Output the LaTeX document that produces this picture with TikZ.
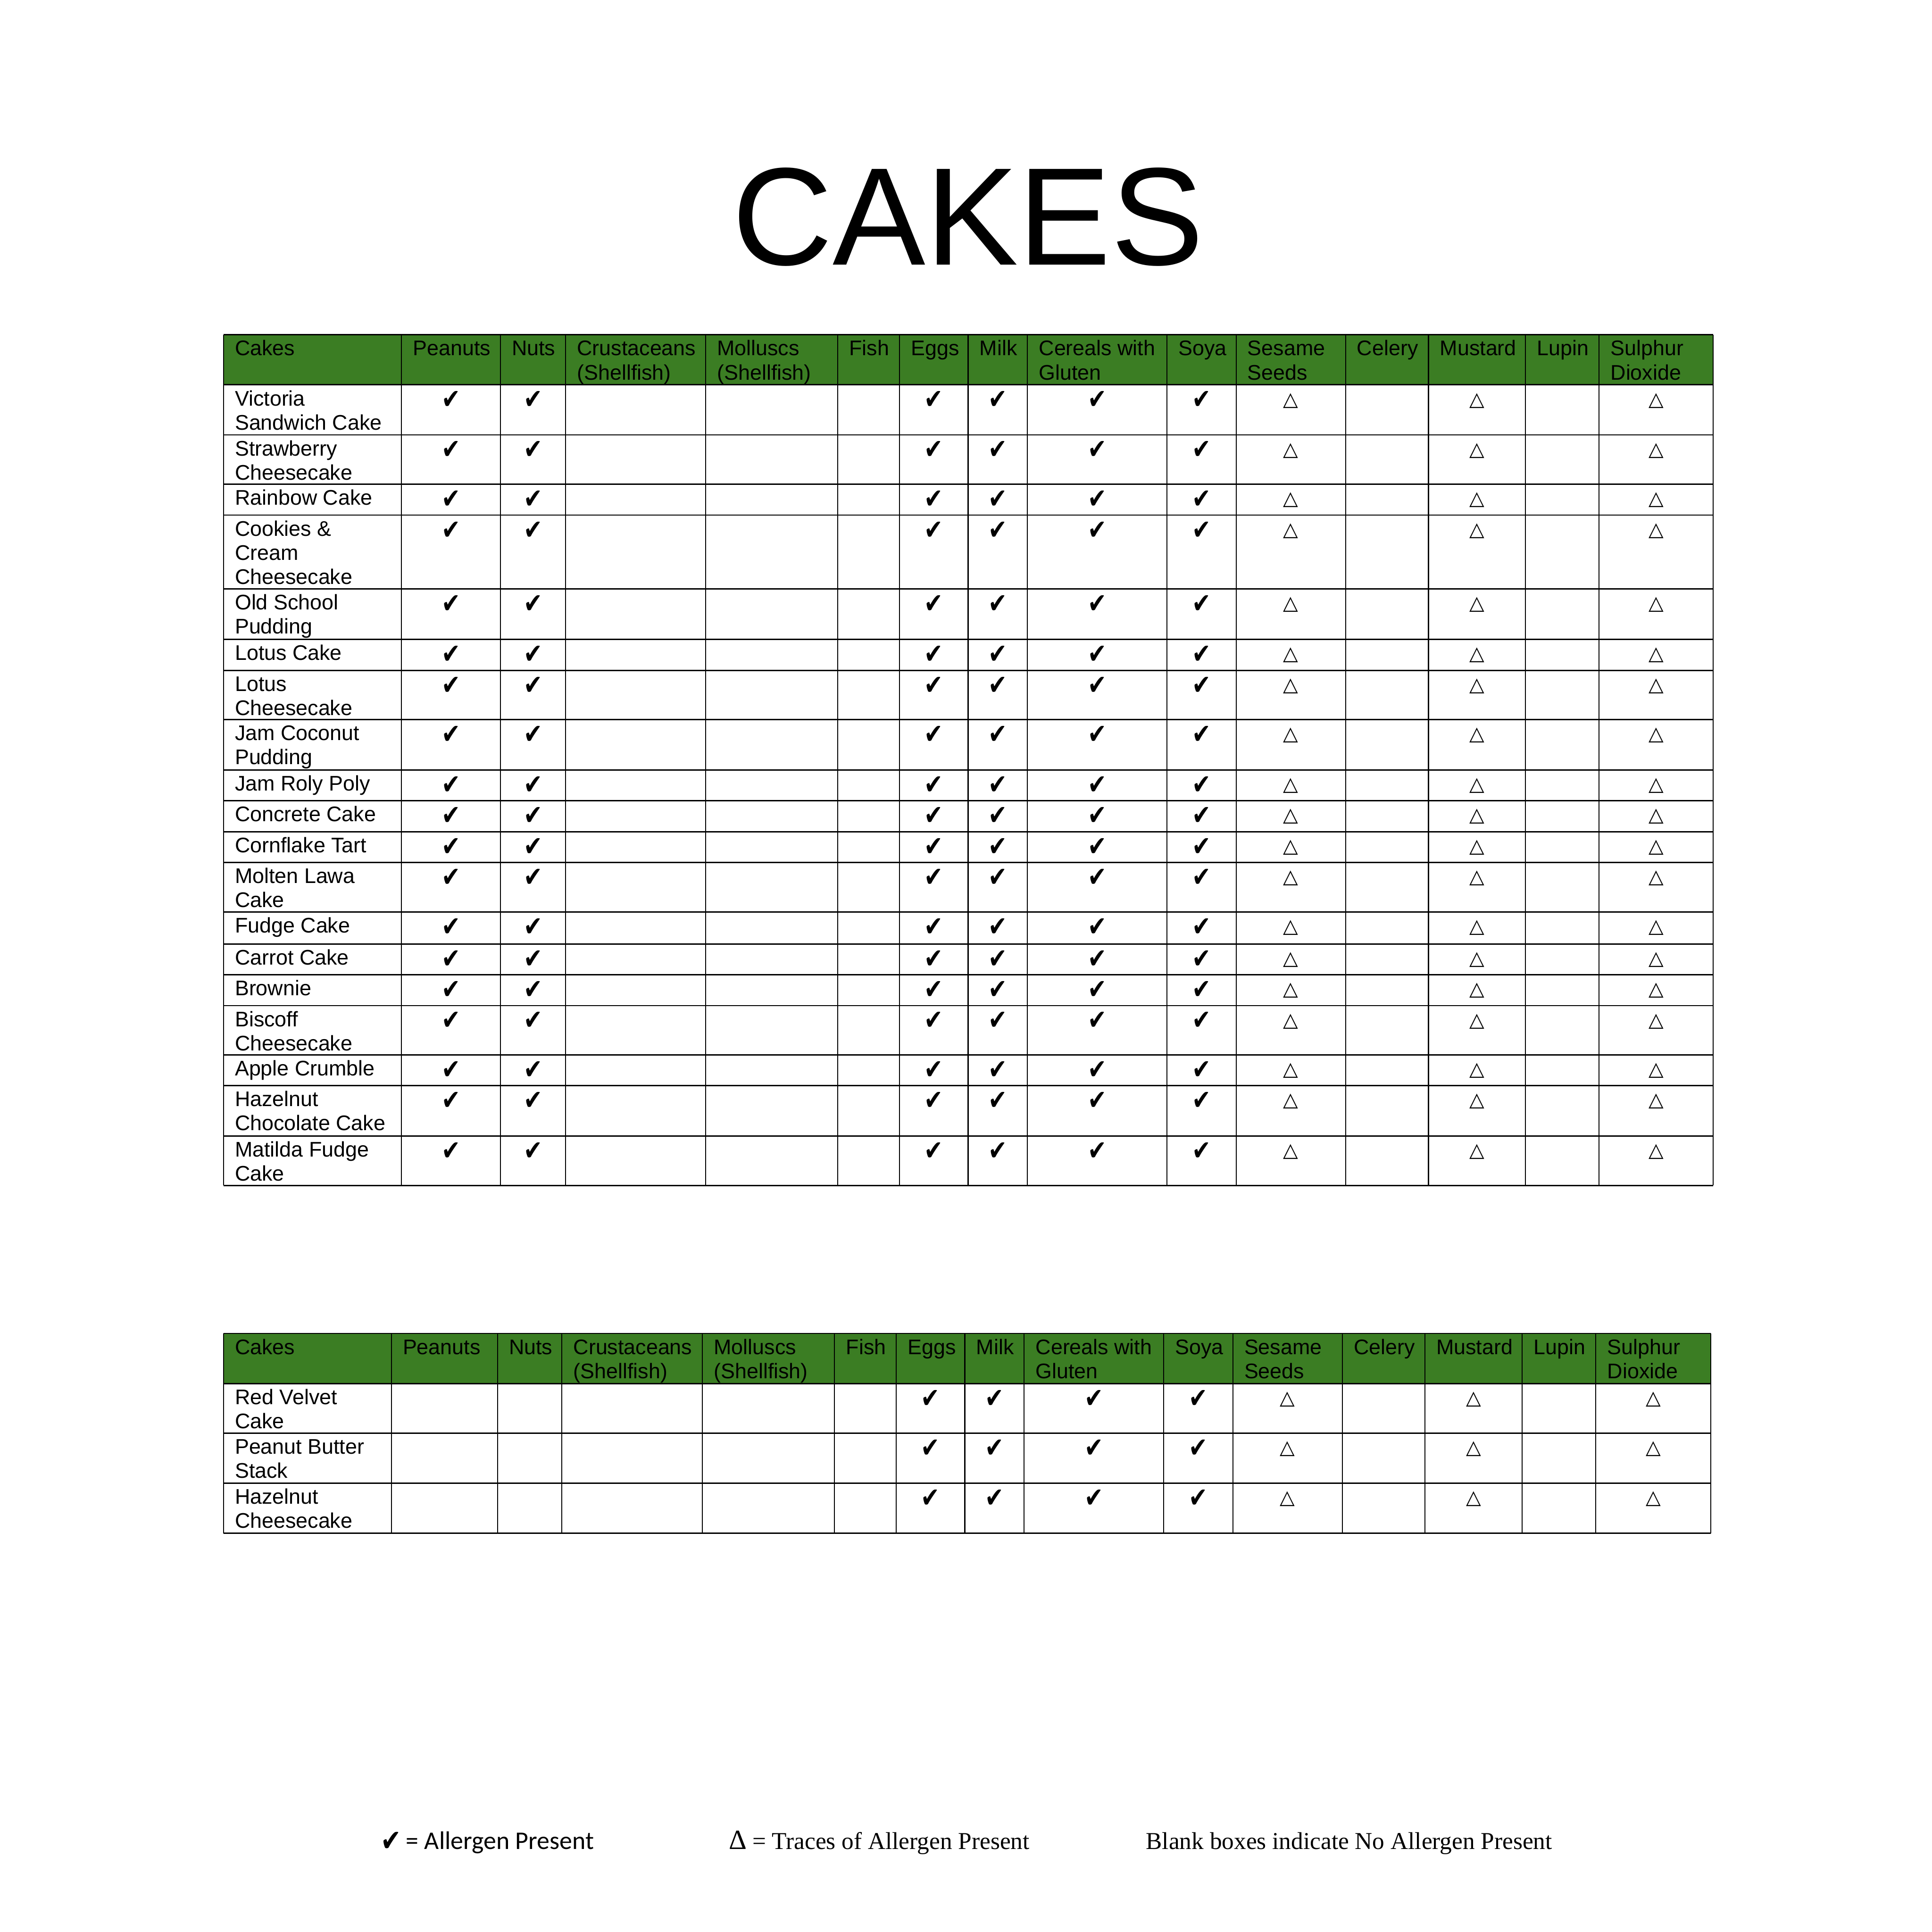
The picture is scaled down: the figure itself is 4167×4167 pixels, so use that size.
\documentclass[tikz,border=0pt]{standalone}
\usepackage{fontspec}
\usepackage{graphicx}
\setmainfont{Liberation Sans}
\newfontfamily\symfont{DejaVu Sans}
\newfontfamily\legsans{Carlito}
\newfontfamily\legserif{Liberation Serif}
\definecolor{hdrgreen}{HTML}{3B7D23}
\newcommand\ct[1]{\parbox[t]{300pt}{\raggedright #1}}
\newcommand\ck{\scalebox{1.05}[1.3]{✔}}
\begin{document}
\begin{tikzpicture}[x=0.25pt,y=-0.25pt,
  cell/.style={anchor=base west, inner sep=0pt, font=\fontsize{11.4}{13}\selectfont},
  chk/.style={anchor=base, inner sep=0pt, yshift=-1.7pt, font=\symfont\fontsize{11.5}{12}\selectfont},
  tri/.style={anchor=base, inner sep=0pt, font=\symfont\fontsize{10.5}{12}\selectfont},
  hline/.style={line width=0.7pt, black},
  vline/.style={line width=0.55pt, black},
  titletext/.style={anchor=base, inner sep=0pt, font=\fontsize{75}{80}\selectfont},
  legs/.style={anchor=base west, inner sep=0pt, font=\legsans\fontsize{13.7}{15}\selectfont},
  legr/.style={anchor=base west, inner sep=0pt, font=\legserif\fontsize{13.05}{15}\selectfont}]
\path[use as bounding box, fill=white] (0,0) rectangle (4167,4167);

\node[titletext] (title) at (2088,571) {CAKES};

% ---------- table 1 ----------
\fill[hdrgreen] (482,722) rectangle (3695,830);
\foreach \y in {722,830,938,1044,1111,1270,1379,1446,1552,1661,1727,1794,1860,1967,2036,2102,2169,2275,2341,2450,2557}
  \draw[hline] (482,\y) -- (3695,\y);
\foreach \x in {482,866,1079,1220,1522,1807,1940,2088,2216,2517,2666,2902,3081,3290,3449,3695}
  \draw[vline] (\x,722) -- (\x,2557);
\foreach \x/\t [count=\i] in {482/Cakes,866/Peanuts,1079/Nuts,1220/{Crustaceans\\(Shellfish)},1522/{Molluscs\\(Shellfish)},1807/Fish,1940/Eggs,2088/Milk,2216/{Cereals with\\Gluten},2517/Soya,2666/{Sesame\\Seeds},2902/Celery,3081/Mustard,3290/Lupin,3449/{Sulphur\\Dioxide}}
  \node[cell] (t1h\i) at ({\x+24},767) {\ct{\t}};
\foreach \top/\nm [count=\r] in {830/{Victoria\\Sandwich Cake},938/{Strawberry\\Cheesecake},1044/{Rainbow Cake},1111/{Cookies \&\\Cream\\Cheesecake},1270/{Old School\\Pudding},1379/{Lotus Cake},1446/{Lotus\\Cheesecake},1552/{Jam Coconut\\Pudding},1661/{Jam Roly Poly},1727/{Concrete Cake},1794/{Cornflake Tart},1860/{Molten Lawa\\Cake},1967/{Fudge Cake},2036/{Carrot Cake},2102/{Brownie},2169/{Biscoff\\Cheesecake},2275/{Apple Crumble},2341/{Hazelnut\\Chocolate Cake},2450/{Matilda Fudge\\Cake}} {
  \node[cell] (t1n\r) at (506,{\top+45}) {\ct{\nm}};
  \foreach \cx [count=\c] in {972.5,1149.5,2014,2152,2366.5,2591.5}
    \node[chk] (t1k\r-\c) at (\cx,{\top+45}) {\ck};
  \foreach \cx [count=\c] in {2784,3185.5,3572}
    \node[tri] (t1t\r-\c) at (\cx,{\top+45}) {△};
}

% ---------- table 2 ----------
\fill[hdrgreen] (482,2876) rectangle (3690,2984);
\foreach \y in {2876,2984,3091,3199,3307}
  \draw[hline] (482,\y) -- (3690,\y);
\foreach \x in {482,844,1073,1212,1515,1800,1933,2081,2209,2510,2659,2895,3073,3283,3442,3690}
  \draw[vline] (\x,2876) -- (\x,3307);
\foreach \x/\t [count=\i] in {482/Cakes,844/Peanuts,1073/Nuts,1212/{Crustaceans\\(Shellfish)},1515/{Molluscs\\(Shellfish)},1800/Fish,1933/Eggs,2081/Milk,2209/{Cereals with\\Gluten},2510/Soya,2659/{Sesame\\Seeds},2895/Celery,3073/Mustard,3283/Lupin,3442/{Sulphur\\Dioxide}}
  \node[cell] (t2h\i) at ({\x+24},2921) {\ct{\t}};
\foreach \top/\nm [count=\r] in {2984/{Red Velvet\\Cake},3091/{Peanut Butter\\Stack},3199/{Hazelnut\\Cheesecake}} {
  \node[cell] (t2n\r) at (506,{\top+45}) {\ct{\nm}};
  \foreach \cx [count=\c] in {2007,2145,2359.5,2584.5}
    \node[chk] (t2k\r-\c) at (\cx,{\top+45}) {\ck};
  \foreach \cx [count=\c] in {2777,3178,3566}
    \node[tri] (t2t\r-\c) at (\cx,{\top+45}) {△};
}

% ---------- legend ----------
\node[anchor=base west, inner sep=0pt, yshift=-1pt, font=\symfont\fontsize{12.5}{15}\selectfont] (lchk) at (821,3988) {\ck};
\node[legs] (l1) at (875,3988) {= Allergen Present};
\node[anchor=base west, inner sep=0pt, font=\legserif\fontsize{15}{15}\selectfont] (ltri) at (1571,3988) {Δ};
\node[legr] (l2) at (1622,3988) {= Traces of Allergen Present};
\node[legr] (l3) at (2471,3988) {Blank boxes indicate No Allergen Present};
\end{tikzpicture}
\end{document}
